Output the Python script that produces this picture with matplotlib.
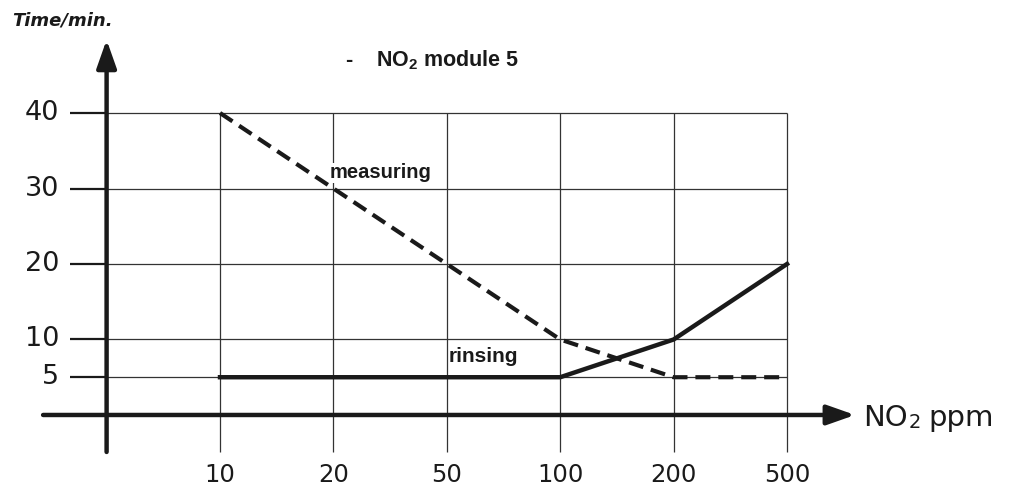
import numpy as np
import matplotlib
matplotlib.use("Agg")
import matplotlib.pyplot as plt

plt.rcParams['font.family'] = ['Liberation Sans', 'DejaVu Sans']
plt.rcParams['mathtext.fontset'] = 'custom'
plt.rcParams['mathtext.rm'] = 'Liberation Sans'
plt.rcParams['mathtext.bf'] = 'Liberation Sans:bold'

# data
concentrations = ["10", "20", "50", "100", "200", "500"]
measuring = [40, 30, 20, 10, 5, 5]
rinsing = [5, 5, 5, 5, 10, 20]
y_ticks = [5, 10, 20, 30, 40]

ink = "#1a1a1a"
grid = "#333333"
tick_font = ['DejaVu Sans']

fig = plt.figure(figsize=(10.11, 4.95), dpi=100)
ax = fig.add_axes([0, 0, 1, 1])
ax.set_xlim(-0.940, 7.975)
ax.set_ylim(-10.6, 54.97)
ax.axis("off")

pos = np.arange(1, len(concentrations) + 1)

# grid
for y in y_ticks:
    ax.plot([0, pos[-1]], [y, y], color=grid, lw=0.9, solid_capstyle="butt")
    ax.plot([-0.32, 0], [y, y], color=ink, lw=1.6, solid_capstyle="butt")
for x in pos:
    ax.plot([x, x], [-4.9, max(y_ticks)], color=grid, lw=0.9, solid_capstyle="butt")

# axes with arrows
arrow = dict(arrowstyle="-|>,head_length=0.85,head_width=0.3", lw=3.2,
             color=ink, mutation_scale=20, shrinkA=0, shrinkB=0)
ax.annotate("", xy=(0, 49.7), xytext=(0, -4.9), arrowprops=arrow)
ax.annotate("", xy=(6.6, 0), xytext=(-0.56, 0), arrowprops=arrow)

# series
ax.plot(pos, rinsing, color=ink, lw=3.2, solid_joinstyle="miter", zorder=3)
ax.plot(pos, measuring, color=ink, lw=3.0, dashes=(3.6, 1.9), zorder=3)

# tick labels
for y in y_ticks:
    ax.text(-0.42, y, str(y), ha="right", va="center", fontsize=19.5,
            color=ink, family=tick_font)
for x, lab in zip(pos, concentrations):
    ax.text(x, -8.0, lab, ha="center", va="center", fontsize=17.5,
            color=ink, family=tick_font)

# axis titles
ax.text(-0.834, 52.3, "Time/min.", ha="left", va="center", fontsize=13,
        fontweight="bold", style="italic", color=ink, family=tick_font)
t_no = ax.text(6.67, 0.0, "NO", ha="left", va="center_baseline", fontsize=21,
               color=ink, family=tick_font)
t_2 = ax.annotate("2", xy=(1, 0), xycoords=t_no, xytext=(1, 0),
                  textcoords="offset points", ha="left", va="bottom",
                  fontsize=14, color=ink, family=tick_font)
ax.annotate("ppm", xy=(1, 0), xycoords=t_2, xytext=(5, 0),
            textcoords="offset points", ha="left", va="bottom",
            fontsize=21, color=ink, family=tick_font)

ax.text(2.10, 47.0, r"-    NO$_\mathbf{2}$ module 5", ha="left", va="center",
        fontsize=15.5, fontweight="bold", color=ink)

# series labels
ax.text(1.97, 32.1, "measuring", ha="left", va="center", fontsize=14.5,
        fontweight="bold", color=ink, zorder=5,
        bbox=dict(facecolor="white", edgecolor="none", pad=0.5))
ax.text(3.02, 7.7, "rinsing", ha="left", va="center", fontsize=15,
        fontweight="bold", color=ink, zorder=5)

fig.savefig("out.png", dpi=100)
